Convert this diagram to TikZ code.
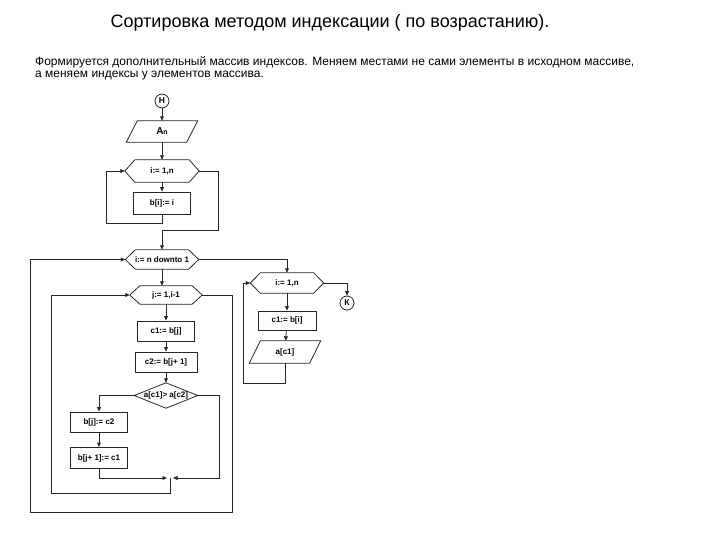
\documentclass[tikz,border=0pt]{standalone}
\usepackage{fontspec}
\setmainfont{Liberation Sans}
\usetikzlibrary{arrows.meta,calc}
\definecolor{linec}{HTML}{262626}
\tikzset{
  ln/.style={draw=linec, line width=0.8pt},
  arr/.style={ln, -{Triangle[length=4.5pt,width=3.8pt]}},
  blk/.style={inner sep=0pt, font=\fontsize{8}{9}\selectfont\bfseries},
  box/.style={blk, ln},
  circ/.style={circle, ln, minimum size=14pt, inner sep=0pt, font=\fontsize{8.5}{9}\selectfont\bfseries},
  para/.style={anchor=west, inner sep=0pt, font=\fontsize{12}{14}\selectfont},
}
\newcommand\hexout[1]{\draw[ln] (#1.west) -- ([xshift=10pt]#1.north west) -- ([xshift=-10pt]#1.north east) -- (#1.east) -- ([xshift=-10pt]#1.south east) -- ([xshift=10pt]#1.south west) -- cycle;}
\newcommand\parout[1]{\draw[ln] ([xshift=11pt]#1.north west) -- (#1.north east) -- ([xshift=-11pt]#1.south east) -- (#1.south west) -- cycle;}
\newcommand\diaout[1]{\draw[ln] (#1.west) -- (#1.north) -- (#1.east) -- (#1.south) -- cycle;}
\begin{document}
\begin{tikzpicture}[x=1pt,y=-1pt]
\useasboundingbox (0,0) rectangle (720,540);
% texts
\node[font=\fontsize{18}{21}\selectfont] (title) at (330,23) {Сортировка методом индексации ( по возрастанию).};
\node[para] (p1) at (35,62) {Формируется дополнительный массив индексов. Меняем местами не сами элементы в исходном массиве,};
\node[para] (p2) at (35,76) {а меняем индексы у элементов массива.};
% left part
\node[circ] (start) at (162,101) {Н};
\node[blk, minimum width=71pt, minimum height=21pt] (in) at (162,131.5) {{\fontsize{10}{10}\selectfont A}{\fontsize{7}{7}\selectfont n}}; \parout{in}
\node[blk, minimum width=74pt, minimum height=22pt] (l1) at (162,171) {i:= 1,n}; \hexout{l1}
\node[box, minimum width=57pt, minimum height=22pt] (b1) at (162,203) {b[i]:= i};
\node[blk, minimum width=73pt, minimum height=19pt] (l2) at (162,259.5) {i:= n downto 1}; \hexout{l2}
\node[blk, minimum width=72pt, minimum height=18pt] (l3) at (166,295) {j:= 1,i-1}; \hexout{l3}
\node[box, minimum width=57pt, minimum height=20pt] (s1) at (166,331) {c1:= b[j]};
\node[box, minimum width=62pt, minimum height=20pt] (s2) at (166,362) {c2:= b[j+ 1]};
\node[blk, minimum width=63pt, minimum height=25pt] (d) at (166,395.5) {a[c1]> a[c2]}; \diaout{d}
\node[box, minimum width=57pt, minimum height=20pt] (s3) at (99,422) {b[j]:= c2};
\node[box, minimum width=57pt, minimum height=21pt] (s4) at (99,458) {b[j+ 1]:= c1};
\coordinate (m) at (170,478);
% right part
\node[blk, minimum width=73pt, minimum height=20pt] (l4) at (287,283) {i:= 1,n}; \hexout{l4}
\node[box, minimum width=58pt, minimum height=19pt] (s5) at (287,320.5) {c1:= b[i]};
\node[blk, minimum width=71pt, minimum height=22pt] (out) at (285,352) {a[c1]}; \parout{out}
\node[circ] (end) at (347,303) {К};
% connectors
\draw[arr] (start) -- (in);
\draw[arr] (in) -- (l1);
\draw[arr] (l1) -- (b1);
\draw[arr] (b1.south) -- ++(0,9) -| ([xshift=-18pt]l1.west) -- (l1.west);
\draw[arr] (l1.east) -- ++(19,0) -- ++(0,59) -| (l2.north);
\draw[arr] (l2.south) -- (l2.south |- l3.north);
\draw[arr] (l3) -- (s1);
\draw[arr] (s1) -- (s2);
\draw[arr] (s2) -- (d);
\draw[arr] (d.west) -| (s3.north);
\draw[arr] (s3) -- (s4);
\draw[arr] (s4.south) |- ([xshift=-3pt]m);
\draw[arr] (d.east) -- ++(22,0) |- ([xshift=3pt]m);
\draw[arr] (m) -- ++(0,15) -| ([xshift=-78pt]l3.west) -- (l3.west);
\draw[arr] (l3.east) -- ++(30,0) -- ++(0,217) -| ([xshift=-95pt]l2.west) -- (l2.west);
\draw[arr] (l2.east) -| (l4.north);
\draw[arr] (l4) -- (s5);
\draw[arr] (s5) -- (out);
\draw[arr] (out.south) -- ++(0,20) -| ([xshift=-7pt]l4.west) -- (l4.west);
\draw[arr] (l4.east) -| (end.north);
\end{tikzpicture}
\end{document}
